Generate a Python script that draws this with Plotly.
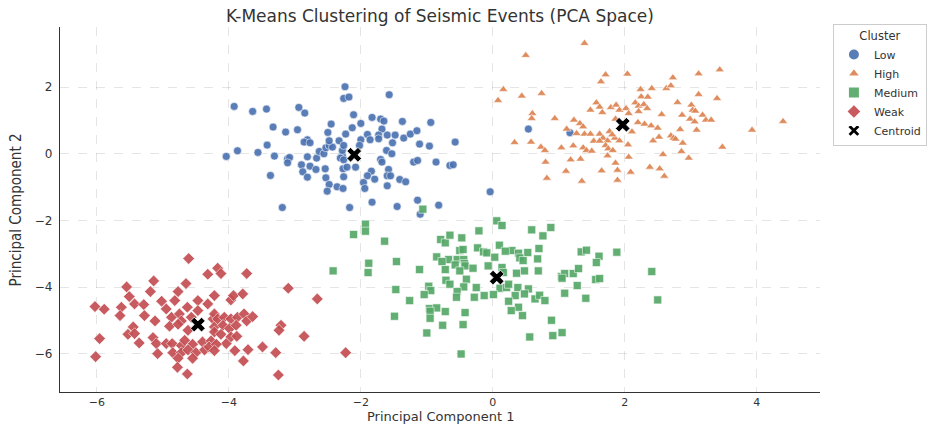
import plotly.graph_objects as go

# ---- data ----
low_pts = [(-3.92,1.42),(-3.64,1.27),(-3.43,1.34),(-2.94,1.39),(-2.85,1.22),(-3.33,0.80),(-3.14,0.65),(-2.96,0.72),
    (-3.42,0.26),(-3.87,0.09),(-3.56,0.04),(-4.04,-0.08),(-3.31,-0.07),(-3.11,-0.15),(-3.08,-0.11),(-3.11,-0.27),
    (-3.37,-0.65),(-3.19,-1.61),(-2.81,0.42),(-2.86,0.35),(-2.77,0.33),(-2.81,-0.09),(-2.67,-0.13),(-2.63,0.07),
    (-2.56,0.0),(-2.53,0.18),(-2.48,0.25),(-2.43,0.20),(-2.48,0.39),(-2.33,0.39),(-2.50,0.64),(-2.45,0.89),
    (-2.90,-0.33),(-2.77,-0.37),(-2.88,-0.54),(-2.68,-0.47),(-2.54,-0.45),(-2.81,-0.70),(-2.53,-0.72),(-2.48,-0.92),
    (-2.36,-0.99),(-2.51,-1.12),(-2.28,-0.05),(-2.31,-0.13),(-2.26,-0.18),(-2.28,0.10),(-2.26,0.25),(-2.27,-0.45),
    (-2.26,-0.69),(-2.27,-1.04),(-2.24,2.01),(-2.26,1.66),(-2.18,1.70),(-1.57,1.77),(-2.11,1.17),(-1.83,1.09),
    (-1.70,1.04),(-1.65,0.98),(-1.37,0.97),(-0.94,0.94),(-2.00,0.91),(-2.13,0.78),(-2.23,0.59),(-1.68,0.74),
    (-1.90,0.58),(-1.73,0.56),(-1.60,0.56),(-1.48,0.56),(-1.35,0.47),(-1.25,0.59),(-1.15,0.69),(-2.00,0.42),
    (-1.86,0.42),(-1.73,0.45),(-1.52,0.33),(-1.11,0.29),(-0.96,0.23),(-0.57,0.35),(-2.02,0.25),(-1.61,0.10),
    (-1.53,0.0),(-1.70,-0.17),(-1.68,-0.25),(-1.20,-0.25),(-1.14,-0.20),(-0.86,-0.25),(-0.65,-0.35),(-0.60,-0.33),
    (-2.21,-0.40),(-2.08,-0.40),(-1.58,-0.47),(-1.84,-0.52),(-1.90,-0.66),(-1.60,-0.66),(-1.55,-0.66),(-1.79,-0.76),
    (-1.41,-0.77),(-1.32,-0.84),(-1.96,-0.86),(-1.60,-0.96),(-1.94,-1.04),(-1.14,-1.39),(-1.83,-1.45),(-1.45,-1.58),
    (-2.17,-1.61),(-0.82,-1.54),(-1.10,-1.81),(-0.04,-1.14),(0.54,0.74),(1.17,0.63)]

high_pts = [(1.39,3.31),(0.50,2.95),(1.71,2.37),(2.04,2.39),(1.64,2.16),(0.16,1.93),(0.08,1.60),(0.44,1.73),
    (0.74,1.81),(2.24,1.93),(2.41,1.96),(2.25,1.71),(2.35,1.70),(2.16,1.53),(2.21,1.43),(2.29,1.48),(1.57,1.53),
    (1.62,1.40),(1.48,1.31),(1.66,1.24),(1.79,1.39),(1.87,1.46),(1.92,1.31),(2.02,1.36),(2.06,1.21),(2.21,1.27),
    (2.34,1.36),(0.60,1.21),(0.59,1.06),(0.94,1.06),(1.23,1.01),(1.32,0.91),(1.37,0.81),(1.86,1.04),(2.20,0.94),
    (2.30,0.89),(2.40,0.84),(1.12,0.74),(1.27,0.61),(1.39,0.59),(1.48,0.59),(1.62,0.59),(1.77,0.67),(1.85,0.47),
    (1.67,0.47),(1.74,0.39),(1.92,0.39),(1.81,0.57),(1.53,0.38),(1.62,0.38),(2.11,0.66),(0.33,0.34),(0.58,0.35),
    (0.73,0.20),(0.79,0.10),(1.04,0.18),(1.22,0.24),(1.37,0.18),(1.42,0.10),(1.50,0.08),(1.71,0.25),(1.75,0.15),
    (1.82,0.10),(2.05,0.27),(0.80,-0.25),(1.18,-0.18),(1.33,-0.16),(1.74,-0.06),(2.06,-0.10),(1.86,-0.28),
    (1.11,-0.52),(1.65,-0.51),(1.89,-0.49),(2.09,-0.55),(0.82,-0.73),(1.35,-0.82),(1.89,-0.79),(2.38,-0.40),
    (2.43,0.39),(3.44,2.52),(3.12,2.40),(2.73,2.28),(2.63,1.96),(2.70,2.04),(3.12,1.78),(3.40,1.66),(2.80,1.54),
    (3.01,1.46),(3.03,1.31),(3.07,1.28),(2.56,1.18),(2.87,1.16),(3.18,1.16),(2.99,1.04),(3.06,0.96),(3.23,1.01),
    (3.31,1.01),(4.40,0.97),(3.93,0.71),(2.50,0.77),(2.84,0.73),(3.09,0.71),(2.52,0.50),(2.70,0.54),(2.74,0.47),
    (2.77,0.44),(2.88,0.32),(3.48,0.20),(2.86,0.07),(2.58,-0.02),(2.97,-0.13),(2.53,-0.45),(2.60,-0.67)]

medium_pts = [(-1.06,-1.66),(-1.93,-2.11),(-1.93,-2.32),(-2.11,-2.42),(-1.64,-2.62),(-2.42,-3.51),(-1.88,-3.28),
    (-1.89,-3.56),(-1.46,-3.23),(-1.11,-3.47),(-1.47,-4.07),(-1.26,-4.40),(-1.49,-4.87),(-1.00,-5.37),(-0.48,-6.00),
    (-0.97,-3.97),(-0.94,-4.10),(-1.04,-4.22),(-0.96,-4.64),(-0.85,-4.62),(-0.95,-4.72),(-0.72,-4.73),(-0.95,-4.93),
    (-0.42,-4.76),(-0.76,-5.14),(-0.45,-5.12),(-0.79,-2.57),(-0.72,-2.67),(-0.65,-2.44),(-0.47,-2.52),(-0.21,-2.31),
    (-0.50,-2.90),(-0.45,-2.87),(-0.23,-2.82),(-0.14,-2.94),(-0.09,-2.97),(-0.85,-3.09),(-0.67,-3.17),(-0.77,-3.23),
    (-0.54,-3.17),(-0.44,-3.17),(-0.43,-3.29),(-0.57,-3.33),(-0.42,-3.36),(-0.30,-3.43),(-0.72,-3.47),(-0.50,-3.51),
    (-0.07,-3.36),(-0.40,-3.76),(-0.71,-3.79),(-0.65,-3.91),(-0.44,-3.99),(-0.25,-4.01),(-0.13,-4.25),(-0.28,-4.30),
    (-0.54,-4.13),(-0.55,-4.30),(0.06,-2.01),(0.14,-2.15),(0.59,-2.28),(0.88,-2.21),(0.76,-2.46),(0.10,-2.74),
    (0.29,-2.90),(0.19,-2.92),(0.39,-2.98),(0.53,-2.96),(0.70,-2.84),(0.68,-3.15),(0.41,-3.12),(0.46,-3.20),
    (0.03,-3.10),(1.34,-2.94),(1.42,-2.89),(1.61,-3.07),(1.88,-2.95),(1.57,-3.26),(2.41,-3.53),(0.14,-3.41),
    (0.16,-3.56),(0.36,-3.58),(0.48,-3.51),(0.69,-3.51),(1.04,-3.68),(1.09,-3.59),(1.22,-3.59),(1.30,-3.44),
    (1.05,-3.73),(1.56,-3.77),(1.62,-3.74),(1.28,-3.95),(1.09,-4.18),(1.41,-4.33),(2.50,-4.38),(0.11,-4.03),
    (0.21,-4.01),(0.38,-4.01),(0.54,-4.05),(0.24,-3.91),(0.01,-4.22),(0.34,-4.25),(0.48,-4.20),(0.64,-4.35),
    (0.71,-4.24),(0.79,-4.40),(0.24,-4.42),(0.39,-4.60),(0.28,-4.70),(0.45,-4.85),(0.89,-4.99),(1.05,-5.36),
    (0.91,-5.45),(0.56,-5.49)]

weak_pts = [(-4.61,-3.14),(-4.32,-3.61),(-4.17,-3.43),(-5.14,-3.81),(-5.55,-3.99),(-5.19,-4.13),(-4.77,-4.13),
    (-4.65,-3.89),(-4.22,-4.25),(-4.47,-4.40),(-5.51,-4.28),(-6.03,-4.58),(-5.89,-4.66),(-5.63,-4.60),(-5.43,-4.50),
    (-5.29,-4.52),(-5.02,-4.42),(-4.82,-4.40),(-4.63,-4.60),(-4.47,-4.70),(-4.32,-4.50),(-5.65,-4.85),(-5.28,-4.85),
    (-5.12,-5.01),(-4.95,-4.65),(-4.87,-4.90),(-4.75,-4.80),(-4.72,-5.01),(-4.57,-4.90),(-5.45,-5.19),(-4.90,-5.17),
    (-4.77,-5.11),(-4.62,-5.29),(-4.24,-4.95),(-4.22,-5.19),(-5.53,-5.41),(-5.43,-5.39),(-5.96,-5.54),(-5.36,-5.67),
    (-5.15,-5.51),(-5.10,-5.69),(-4.95,-5.69),(-4.86,-5.69),(-4.72,-5.75),(-4.55,-5.71),(-4.67,-5.59),(-4.40,-5.64),
    (-4.27,-5.61),(-5.08,-5.99),(-4.85,-5.96),(-4.72,-5.96),(-4.62,-5.88),(-4.50,-5.96),(-4.37,-5.88),(-4.30,-5.79),
    (-6.02,-6.08),(-4.77,-6.13),(-4.55,-6.13),(-4.78,-6.40),(-4.63,-6.60),(-4.12,-3.59),(-3.73,-3.59),(-3.10,-4.03),
    (-2.66,-4.35),(-3.97,-4.38),(-3.93,-4.25),(-3.79,-4.20),(-4.22,-4.80),(-4.17,-4.95),(-4.07,-4.90),(-3.97,-4.95),
    (-3.87,-4.90),(-3.77,-4.80),(-3.73,-5.01),(-3.64,-4.88),(-4.09,-5.14),(-3.99,-5.24),(-3.89,-5.14),(-4.22,-5.34),
    (-4.12,-5.41),(-3.97,-5.49),(-3.88,-5.47),(-4.04,-5.69),(-4.19,-5.71),(-4.22,-5.90),(-3.91,-5.90),(-3.71,-5.87),
    (-3.49,-5.79),(-3.29,-5.96),(-3.21,-5.14),(-3.24,-5.29),(-2.86,-5.47),(-2.23,-5.96),(-3.78,-6.21),(-3.25,-6.63)]

centroid_x = [-2.10, 1.97, 0.06, -4.47]
centroid_y = [-0.03, 0.87, -3.71, -5.12]

clusters = ["Low", "High", "Medium", "Weak"]
cluster_points = [low_pts, high_pts, medium_pts, weak_pts]
colors = ["#4C72B0", "#DD8452", "#55A868", "#C44E52"]
symbols = ["circle", "triangle-up", "square", "diamond"]
sizes = [8, 8, 8, 9]

x_ticks = [-6, -4, -2, 0, 2, 4]
y_ticks = [-6, -4, -2, 0, 2]

FONT = "DejaVu Sans, Verdana, sans-serif"
TXT = "#333333"

fig = go.Figure()
for name, pts, c, s, sz in zip(clusters, cluster_points, colors, symbols, sizes):
    fig.add_trace(go.Scatter(
        x=[p[0] for p in pts], y=[p[1] for p in pts], mode="markers", name=name,
        marker=dict(color=c, symbol=s, size=sz, opacity=0.92,
                    line=dict(color="white", width=0.6)),
    ))
fig.add_trace(go.Scatter(
    x=centroid_x, y=centroid_y, mode="markers", name="Centroid",
    marker=dict(color="black", symbol="x", size=13, line=dict(color="white", width=0.8)),
))

fig.update_layout(
    width=948, height=424,
    margin=dict(l=60, r=128, t=27, b=32),
    paper_bgcolor="white", plot_bgcolor="white",
    font=dict(family=FONT, color=TXT, size=12),
    title=dict(text="K-Means Clustering of Seismic Events (PCA Space)",
               x=0.464, xanchor="center", y=0.963, yanchor="middle",
               font=dict(size=17, color=TXT, family=FONT)),
    legend=dict(x=1.017, xanchor="left", y=1.008, yanchor="top",
                bordercolor="#cccccc", borderwidth=1, bgcolor="white",
                font=dict(size=11, color=TXT, family=FONT),
                title=dict(text="Cluster", side="top center", font=dict(size=11.5, color=TXT)),
                tracegroupgap=0, itemsizing="constant"),
    showlegend=True,
)
grid_col = "rgba(0,0,0,0.10)"
fig.update_xaxes(range=[-6.56, 4.96], tickvals=x_ticks, showline=True, linecolor="#333333", linewidth=1.2,
                 mirror=False, zeroline=False, showgrid=True, gridcolor=grid_col,
                 griddash="dash", gridwidth=0.8, ticks="", tickfont=dict(size=11, color=TXT),
                 automargin=False)
fig.update_yaxes(range=[-7.14, 3.80], tickvals=y_ticks, showline=True, linecolor="#333333", linewidth=1.2,
                 mirror=False, zeroline=False, showgrid=True, gridcolor=grid_col,
                 griddash="dash", gridwidth=0.8, ticks="", tickfont=dict(size=12, color=TXT),
                 ticklabelstandoff=4, automargin=False)

fig.add_annotation(text="Principal Component 1", xref="paper", yref="paper", x=0.5, y=-0.068,
                   xanchor="center", yanchor="middle", showarrow=False,
                   font=dict(size=13, color=TXT, family=FONT))
fig.add_annotation(text="Principal Component 2", xref="paper", yref="paper", x=-0.058, y=0.5,
                   xanchor="center", yanchor="middle", showarrow=False, textangle=-90,
                   font=dict(size=15, color=TXT,
                             family="DejaVu Sans Condensed, Liberation Sans Narrow, DejaVu Sans, sans-serif"))

fig.write_html("out.html")
